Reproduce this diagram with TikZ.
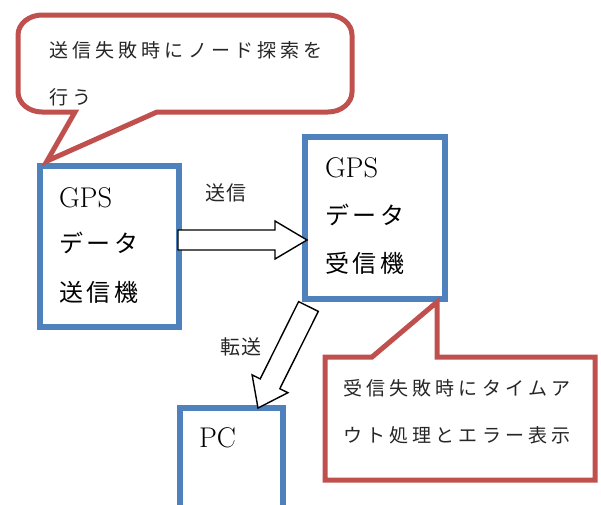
\documentclass[tikz,border=0pt]{standalone}
\usepackage{fontspec}
\newfontfamily\jpcall[LetterSpace=22]{Noto Sans CJK JP}
\newfontfamily\jpbox[LetterSpace=15]{Noto Sans CJK JP}
\newfontfamily\jplab[LetterSpace=8]{Noto Sans CJK JP}
\definecolor{boxblue}{HTML}{4F81BD}
\definecolor{callred}{HTML}{C0504D}
\definecolor{calltext}{HTML}{262626}
\tikzset{
  bluebox/.style={draw=boxblue, line width=5.5pt, fill=white, line join=miter},
  callout/.style={draw=callred, line width=5pt, fill=white, line join=miter},
  blockarrow/.style={draw=black, line width=1.4pt, fill=white, line join=miter},
  txt/.style={anchor=base west, inner sep=0pt, outer sep=0pt},
  latin/.style={txt, font=\fontsize{28.5}{30}\selectfont},
  jbox/.style={txt, font=\jpbox\fontsize{24}{28}\selectfont},
  jcall/.style={txt, text=calltext, font=\jpcall\fontsize{19}{22}\selectfont},
  jlab/.style={txt, text=calltext, font=\jplab\fontsize{20}{24}\selectfont}
}
\begin{document}
\begin{tikzpicture}[x=1pt,y=-1pt]
\useasboundingbox (0,0) rectangle (601,504);
\clip (0,0) rectangle (601,504);
% boxes
\draw[bluebox] (40,166) rectangle (179,327);
\draw[bluebox] (305,137) rectangle (445,299);
\draw[bluebox] (180,408) rectangle (283,530);
% box texts
\node[latin] (g1) at (59,207) {GPS};
\node[jbox] (d1) at (59,252.1) {データ};
\node[jbox] (s1) at (59,301.1) {送信機};
\node[latin] (g2) at (325,177) {GPS};
\node[jbox] (d2) at (325,224.1) {データ};
\node[jbox] (r2) at (325,272.1) {受信機};
\node[latin] (pc) at (199,447) {PC};
% block arrows
\draw[blockarrow] (178,230) -- (275,230) -- (275,221) -- (307,240) -- (275,259) -- (275,250) -- (178,250) -- cycle;
\draw[blockarrow] (298.6,301.6) -- (318.3,311.4) -- (279.8,388.7) -- (287.9,392.7) -- (258,408) -- (252.1,374.9) -- (260.2,378.9) -- cycle;
\node[jlab] (lsend) at (205,200.6) {送信};
\node[jlab] (ltrans) at (220,354.6) {転送};
% callout 1
\draw[callout] (75,112) -- (42,112) .. controls (28.8,112) and (18,103) .. (18,92)
  -- (18,35) .. controls (18,24) and (28.8,15) .. (42,15)
  -- (328,15) .. controls (341.2,15) and (352,24) .. (352,35)
  -- (352,92) .. controls (352,103) and (341.2,112) .. (328,112)
  -- (157,112) -- (47,161) -- cycle;
\node[jcall] (c1a) at (49,57.2) {送信失敗時にノード探索を};
\node[jcall] (c1b) at (49,104.2) {行う};
% callout 2
\draw[callout] (372,357) -- (325,357) -- (325,480) -- (595,480) -- (595,357) -- (437,357) -- (437,302) -- cycle;
\node[jcall] (c2a) at (343,395.2) {受信失敗時にタイムア};
\node[jcall] (c2b) at (343,442.2) {ウト処理とエラー表示};
\end{tikzpicture}
\end{document}
